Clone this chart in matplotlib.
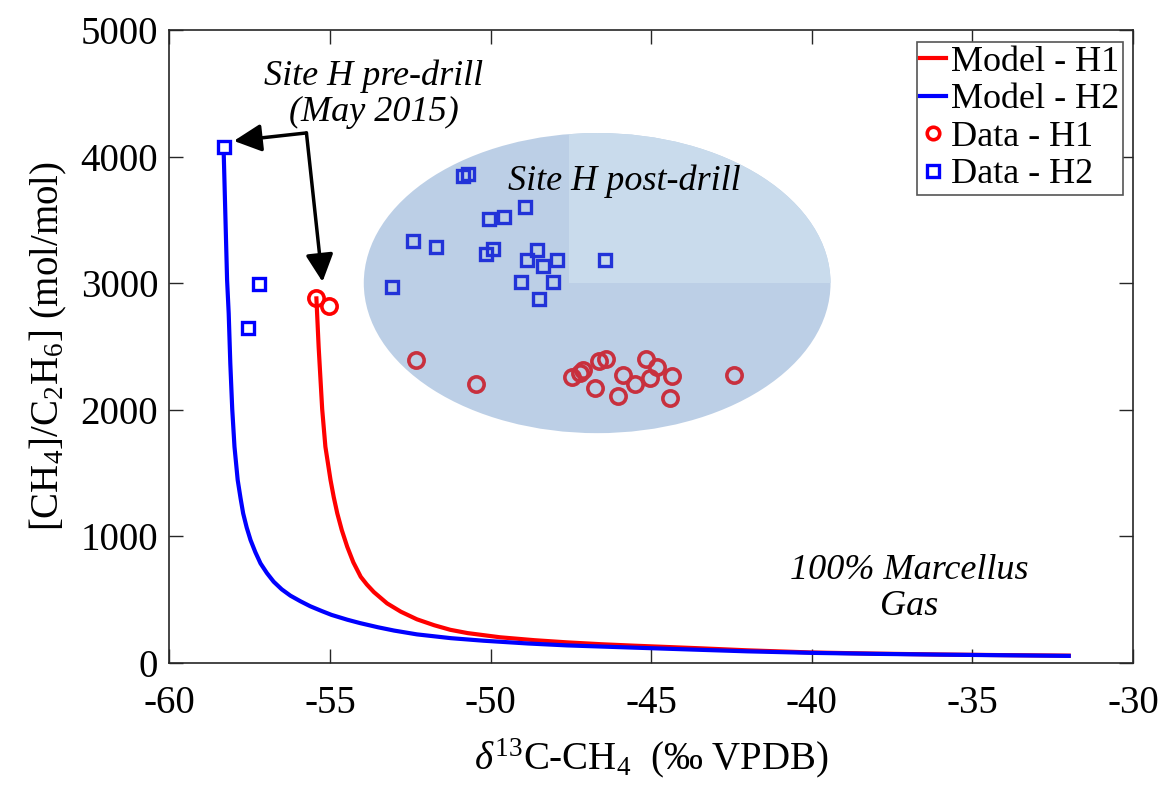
import matplotlib
matplotlib.use("Agg")
import matplotlib.pyplot as plt
from matplotlib.patches import Ellipse, Rectangle
from matplotlib.lines import Line2D

plt.rcParams['font.family'] = ['Liberation Serif', 'DejaVu Serif']
plt.rcParams['mathtext.fontset'] = 'custom'
plt.rcParams['mathtext.rm'] = 'Liberation Serif'
plt.rcParams['mathtext.it'] = 'Liberation Serif:italic'
plt.rcParams['axes.unicode_minus'] = False

# model mixing curves
h1_model_x = [-55.42, -55.35, -55.24, -55.14, -54.98, -54.88, -54.77, -54.63, -54.46,
              -54.27, -54.04, -53.85, -53.63, -53.22, -52.79, -52.29, -51.75, -51.25,
              -50.71, -49.70, -48.63, -47.62, -46.54, -45.55, -43.47, -42.0, -40.0,
              -38.0, -36.0, -34.0, -32.0]
h1_model_y = [2880, 2497, 2005, 1708, 1445, 1310, 1182, 1050, 918,
              795, 681, 620, 560, 471, 405, 345, 298, 262,
              236, 203, 180, 163, 148, 137, 116, 100, 83,
              74, 67, 62, 58]

h2_model_x = [-58.31, -58.25, -58.20, -58.15, -58.10, -58.04, -57.97, -57.87, -57.78,
              -57.70, -57.59, -57.47, -57.32, -57.16, -56.96, -56.75, -56.50, -56.23,
              -55.92, -55.61, -55.25, -54.95, -54.46, -54.06, -53.50, -53.00, -52.29,
              -51.23, -50.22, -48.83, -47.62, -45.50, -43.47, -42.0, -40.0, -38.0,
              -36.0, -34.0, -32.0]
h2_model_y = [4075, 3500, 3024, 2761, 2366, 2005, 1708, 1445, 1300,
              1182, 1070, 971, 875, 787, 710, 642, 582, 532,
              488, 448, 410, 380, 342, 315, 282, 256, 226,
              196, 176, 154, 139, 121, 104, 92, 80, 72,
              66, 61, 56]

# pre-drill / early data
h1_pre_x = [-55.42, -55.02]
h1_pre_y = [2880, 2821]
h2_pre_x = [-58.31, -57.20, -57.54]
h2_pre_y = [4075, 2990, 2647]

# post-drill data
h1_post_x = [-52.31, -50.45, -47.47, -47.13, -47.21, -46.61, -46.40, -46.74, -45.89,
             -46.02, -45.50, -45.16, -44.82, -45.05, -44.35, -44.41, -42.41]
h1_post_y = [2392, 2200, 2260, 2313, 2287, 2387, 2405, 2174, 2274,
             2110, 2200, 2405, 2339, 2253, 2266, 2090, 2274]
h2_post_x = [-50.85, -50.70, -48.92, -50.06, -49.57, -52.40, -51.69, -49.91, -50.13,
             -48.56, -48.87, -47.94, -48.38, -46.43, -53.07, -49.04, -48.06, -48.48]
h2_post_y = [3850, 3860, 3603, 3511, 3524, 3332, 3287, 3274, 3229,
             3261, 3187, 3187, 3134, 3187, 2971, 3010, 3010, 2879]

fig = plt.figure(figsize=(11.69, 7.94), dpi=100)
ax = fig.add_axes([0.1448, 0.1650, 0.8244, 0.7972])

# post-drill envelope
ell = Ellipse((-46.68, 3001), 14.53, 2371, facecolor='#bccfe6', edgecolor='none', zorder=0)
ax.add_patch(ell)
quad = Rectangle((-47.55, 2998), 10, 1500, facecolor='#c9dbec', edgecolor='none', zorder=0.5)
ax.add_patch(quad)
quad.set_clip_path(ell)

ax.plot(h1_model_x, h1_model_y, color='#ff0000', lw=3, zorder=2)
ax.plot(h2_model_x, h2_model_y, color='#0000ff', lw=3, zorder=2)

ax.plot(h1_post_x, h1_post_y, 'o', ms=11, mfc='none', mec='#c8303e', mew=2.6, zorder=3)
ax.plot(h2_post_x, h2_post_y, 's', ms=9, mfc='none', mec='#2233d8', mew=2.4, zorder=3)
ax.plot(h1_pre_x, h1_pre_y, 'o', ms=11, mfc='none', mec='#ff0000', mew=2.6, zorder=4)
ax.plot(h2_pre_x, h2_pre_y, 's', ms=9, mfc='white', mec='#0000ff', mew=2.4, zorder=4)

# arrows to pre-drill samples
corner = (-55.73, 4187)
arrow = dict(arrowstyle='-|>,head_length=0.6,head_width=0.3', color='black', lw=2.5,
             mutation_scale=28, shrinkA=0, shrinkB=0)
ax.annotate('', xy=(-57.99, 4124), xytext=corner, arrowprops=arrow, zorder=5)
ax.annotate('', xy=(-55.23, 3011), xytext=corner, arrowprops=arrow, zorder=5)

ax.text(-53.63, 4492, 'Site H pre-drill\n(May 2015)', ha='center', va='center',
        fontsize=26, style='italic', linespacing=1.1)
ax.text(-45.85, 3805, 'Site H post-drill', ha='center', va='center',
        fontsize=26, style='italic', zorder=6)
ax.text(-36.98, 590, '100% Marcellus\nGas', ha='center', va='center',
        fontsize=26, style='italic', linespacing=1.1)

ax.set_xlim(-60, -30)
ax.set_ylim(0, 5000)
ax.set_xticks([-60, -55, -50, -45, -40, -35, -30])
ax.set_yticks([0, 1000, 2000, 3000, 4000, 5000])
ax.tick_params(direction='in', length=10, width=1, top=True, right=True,
               labelsize=28, colors='#262626', pad=8)
ax.tick_params(axis='x', pad=16)
ax.tick_params(labelcolor='black')
for s in ax.spines.values():
    s.set_color('#262626')
    s.set_linewidth(1.2)

ax.set_xlabel(r'$\delta^{13}$C-CH$_4$  (‰ VPDB)', fontsize=28, labelpad=10)
ax.set_ylabel(r'[CH$_4$]/C$_2$H$_6$] (mol/mol)', fontsize=28, labelpad=8)

handles = [
    Line2D([], [], color='#ff0000', lw=3),
    Line2D([], [], color='#0000ff', lw=3),
    Line2D([], [], ls='none', marker='o', ms=9, mfc='none', mec='#ff0000', mew=2.6),
    Line2D([], [], ls='none', marker='s', ms=8, mfc='none', mec='#0000ff', mew=2.4),
]
labels = ['Model - H1', 'Model - H2', 'Data - H1', 'Data - H2']
leg = ax.legend(handles, labels, loc='upper right', bbox_to_anchor=(0.9896, 0.9815),
                borderaxespad=0, fontsize=26, handlelength=0.7, handletextpad=0.15,
                labelspacing=0.12, borderpad=0.1, fancybox=False, framealpha=1)
leg.get_frame().set_edgecolor('#555555')
leg.get_frame().set_linewidth(1.2)

fig.savefig('out.png', dpi=100)
